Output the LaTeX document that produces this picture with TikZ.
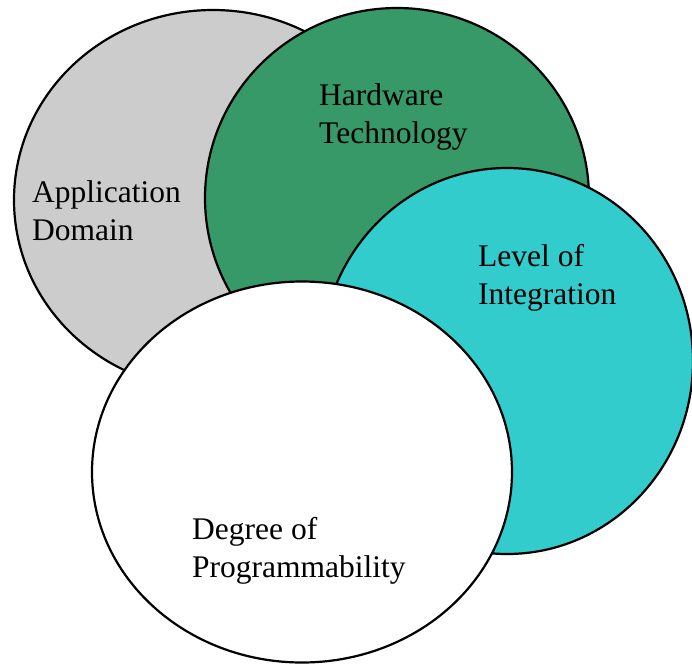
\documentclass[tikz,border=0pt]{standalone}
\usepackage{fontspec}
\setmainfont{Liberation Serif}
\usetikzlibrary{shapes.geometric}
\definecolor{domaingray}{RGB}{204,204,204}
\definecolor{hwgreen}{RGB}{55,153,104}
\definecolor{intteal}{RGB}{51,204,204}
\begin{document}
\begin{tikzpicture}[x=1pt,y=-1pt,
  blob/.style={ellipse, draw=black, line width=2.2pt, inner sep=0pt},
  % anchored at the baseline of the last line
  label/.style={anchor=base west, inner sep=0pt, align=left,
    font=\fontsize{31.5}{38}\selectfont}]
  \useasboundingbox (0,0) rectangle (692,664);
  % the four overlapping areas, back to front
  \node[blob, fill=domaingray, minimum width=398pt, minimum height=380pt] (app) at (213,200) {};
  \node[blob, fill=hwgreen, minimum width=384pt, minimum height=380pt] (hw) at (397,198) {};
  \node[blob, fill=intteal, minimum width=372pt, minimum height=386pt] (lvl) at (507,361) {};
  \node[blob, fill=white, minimum width=420pt, minimum height=381pt] (prog) at (302,472) {};
  % captions
  \node[label] (tapp) at (32,240) {Application\\Domain};
  \node[label] (thw) at (319,143) {Hardware\\Technology};
  \node[label] (tlvl) at (478,304) {Level of\\Integration};
  \node[label] (tprog) at (192,577) {Degree of\\Programmability};
\end{tikzpicture}
\end{document}
